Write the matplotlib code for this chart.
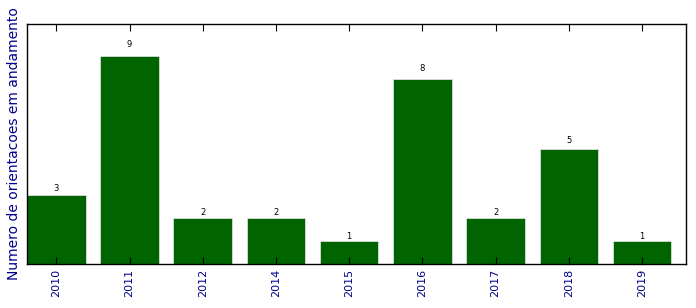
import numpy as np
import matplotlib
matplotlib.use("Agg")
import matplotlib.pyplot as plt

anos = ["2010", "2011", "2012", "2014", "2015", "2016", "2017", "2018", "2019"]
orientacoes = [3, 9, 2, 2, 1, 8, 2, 5, 1]

fig = plt.figure(figsize=(6.96, 3.08), dpi=100)
ax = fig.add_axes([0.0388, 0.1429, 0.9468, 0.7792])

pos = np.arange(len(anos))
barras = ax.bar(pos, orientacoes, width=0.8, color="#006400",
                edgecolor="#dddddd", linewidth=0.6)
for b, v in zip(barras, orientacoes):
    ax.text(b.get_x() + b.get_width() / 2, 1.04 * b.get_height() - 0.04, str(v),
            ha="center", va="bottom", fontsize=6)

ax.set_xlim(-0.4, 8.6)
ax.set_ylim(0, 10.4)
ax.set_xticks(pos)
ax.set_xticklabels(anos, rotation=90, fontsize=8, color="darkblue")
ax.set_yticks([])
ax.tick_params(axis="x", direction="in", length=5, top=True, width=0.8)
ax.set_ylabel("Numero de orientacoes em andamento", fontsize=10,
              color="darkblue", labelpad=4)
for s in ax.spines.values():
    s.set_linewidth(1.0)

fig.savefig("out.png", dpi=100)
